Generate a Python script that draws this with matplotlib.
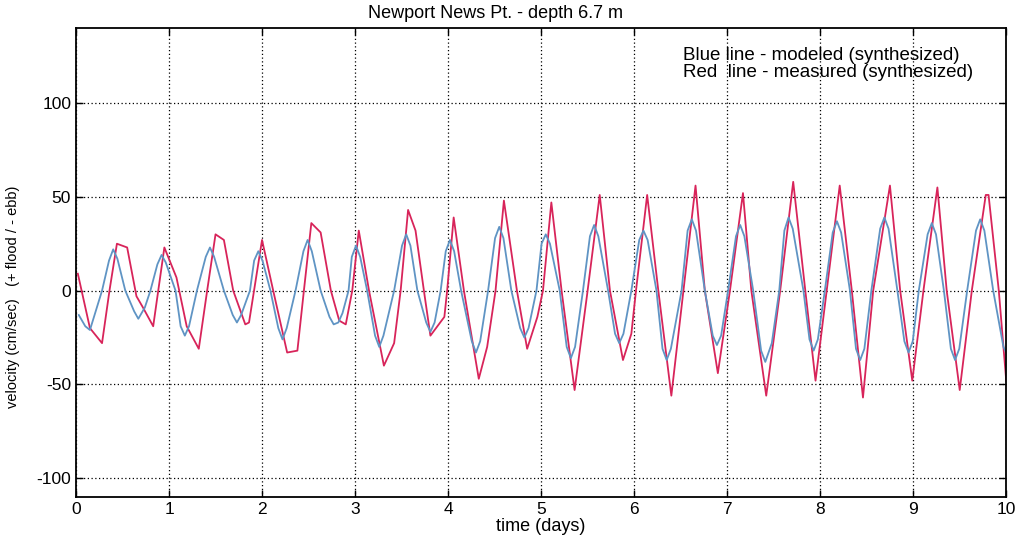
import matplotlib.pyplot as plt

plt.rcParams['font.family'] = ['Liberation Sans', 'DejaVu Sans']
plt.rcParams['axes.unicode_minus'] = False

# measured current (red), cm/s against time in days
red_t = [0.02, 0.15, 0.28, 0.36, 0.44, 0.55, 0.65, 0.72, 0.83, 0.95, 1.08, 1.19, 1.32,
         1.41, 1.50, 1.59, 1.69, 1.82, 1.86, 2.00, 2.12, 2.27, 2.38, 2.45, 2.53, 2.63,
         2.74, 2.83, 2.90, 2.97, 3.04, 3.15, 3.31, 3.42, 3.49, 3.57, 3.65, 3.74, 3.81,
         3.96, 3.99, 4.06, 4.17, 4.33, 4.42, 4.51, 4.60, 4.74, 4.85, 4.96, 5.02, 5.11,
         5.22, 5.36, 5.50, 5.63, 5.74, 5.88, 5.97, 6.02, 6.14, 6.26, 6.40, 6.53, 6.66,
         6.76, 6.90, 7.03, 7.17, 7.26, 7.42, 7.57, 7.71, 7.84, 7.95, 8.07, 8.21, 8.34,
         8.46, 8.57, 8.75, 8.86, 8.99, 9.11, 9.26, 9.36, 9.50, 9.63, 9.78, 9.81, 9.92,
         10.0]
red_v = [9, -20, -28, 0, 25, 23, -3, -9, -19, 23, 7, -19, -31,
         0, 30, 27, 0, -18, -17, 27, 0, -33, -32, 0, 36, 31,
         0, -16, -18, 0, 32, 0, -40, -28, 0, 43, 32, 0, -24,
         -14, 0, 39, 0, -47, -30, 0, 48, 0, -31, -14, 0, 47,
         0, -53, 0, 51, 0, -37, -23, 0, 51, 0, -56, 0, 56,
         0, -44, 0, 52, 0, -56, 0, 58, 0, -48, 0, 56, 0,
         -57, 0, 56, 0, -48, 0, 55, 0, -53, 0, 51, 51, 0,
         -48]

# modeled current (blue)
blue_t = [0.03, 0.10, 0.15, 0.28, 0.355, 0.40, 0.445, 0.53, 0.625, 0.67, 0.74, 0.80,
          0.875, 0.92, 0.965, 1.07, 1.125, 1.17, 1.215, 1.30, 1.395, 1.44, 1.485, 1.59,
          1.685, 1.73, 1.775, 1.87, 1.915, 1.96, 2.005, 2.09, 2.175, 2.22, 2.265, 2.36,
          2.445, 2.49, 2.535, 2.63, 2.725, 2.77, 2.82, 2.865, 2.93, 2.965, 3.01, 3.055,
          3.13, 3.215, 3.26, 3.305, 3.42, 3.505, 3.55, 3.595, 3.67, 3.765, 3.81, 3.855,
          3.92, 3.975, 4.02, 4.065, 4.14, 4.255, 4.30, 4.345, 4.43, 4.505, 4.55, 4.595,
          4.68, 4.775, 4.82, 4.865, 4.95, 5.005, 5.05, 5.095, 5.20, 5.275, 5.32, 5.365,
          5.45, 5.525, 5.57, 5.615, 5.72, 5.795, 5.84, 5.885, 5.97, 6.055, 6.10, 6.145,
          6.24, 6.305, 6.35, 6.395, 6.51, 6.575, 6.62, 6.665, 6.76, 6.845, 6.89, 6.935,
          7.01, 7.095, 7.14, 7.185, 7.28, 7.365, 7.41, 7.48, 7.56, 7.615, 7.66, 7.705,
          7.82, 7.885, 7.93, 7.975, 8.05, 8.135, 8.18, 8.225, 8.32, 8.385, 8.43, 8.475,
          8.55, 8.645, 8.69, 8.735, 8.83, 8.905, 8.95, 8.995, 9.06, 9.155, 9.20, 9.245,
          9.33, 9.405, 9.45, 9.495, 9.58, 9.675, 9.72, 9.765, 9.86, 9.97, 10.0]
blue_v = [-13, -19, -21, 0, 16, 22, 17, 0, -11, -15, -9, 0,
          14, 19, 15, 0, -19, -24, -19, 0, 18, 23, 18, 0,
          -13, -17, -13, 0, 16, 21, 16, 0, -20, -26, -20, 0,
          21, 27, 21, 0, -14, -18, -17, -12, 0, 18, 24, 18,
          0, -24, -30, -24, 0, 24, 30, 24, 0, -17, -22, -17,
          0, 21, 27, 21, 0, -27, -33, -27, 0, 28, 34, 28,
          0, -20, -25, -20, 0, 25, 30, 25, 0, -30, -36, -30,
          0, 29, 35, 29, 0, -23, -28, -23, 0, 27, 32, 27,
          0, -31, -37, -31, 0, 32, 38, 32, 0, -24, -29, -24,
          0, 29, 35, 29, 0, -32, -38, -28, 0, 32, 39, 33,
          0, -26, -32, -26, 0, 31, 37, 31, 0, -31, -37, -31,
          0, 33, 39, 33, 0, -27, -33, -27, 0, 30, 36, 30,
          0, -31, -37, -31, 0, 32, 38, 32, 0, -30, -33]

x_ticks = list(range(0, 11))
y_ticks = [-100, -50, 0, 50, 100]

fig = plt.figure(figsize=(10.2, 5.36), dpi=100)
ax = fig.add_axes([0.0745, 0.0728, 0.912, 0.875])

ax.plot(red_t, red_v, color='#d8245a', lw=1.3)
ax.plot(blue_t, blue_v, color='#5f94c4', lw=1.3)

ax.set_xlim(0, 10)
ax.set_ylim(-110, 140)
ax.set_xticks(x_ticks)
ax.set_yticks(y_ticks)
ax.tick_params(direction='in', top=True, right=True, labelsize=12.5, length=5, width=1)
ax.grid(True, color='black', linestyle=(0, (1, 2)), linewidth=0.9)
for s in ax.spines.values():
    s.set_linewidth(1.3)

fig.text(496 / 1020, 1 - 13 / 536, 'Newport News Pt. - depth 6.7 m', fontsize=13,
         ha='center', va='center')
ax.set_xlabel('time (days)', fontsize=13, labelpad=1)
ax.set_ylabel('velocity (cm/sec)   (+ flood / - ebb)', fontsize=10.5)
ax.yaxis.set_label_coords(-0.06, 0.426)

ax.text(0.652, 0.942, 'Blue line - modeled (synthesized)', transform=ax.transAxes,
        fontsize=13.5, va='center')
ax.text(0.652, 0.906, 'Red  line - measured (synthesized)', transform=ax.transAxes,
        fontsize=13.5, va='center')

fig.savefig('out.png', dpi=100)
